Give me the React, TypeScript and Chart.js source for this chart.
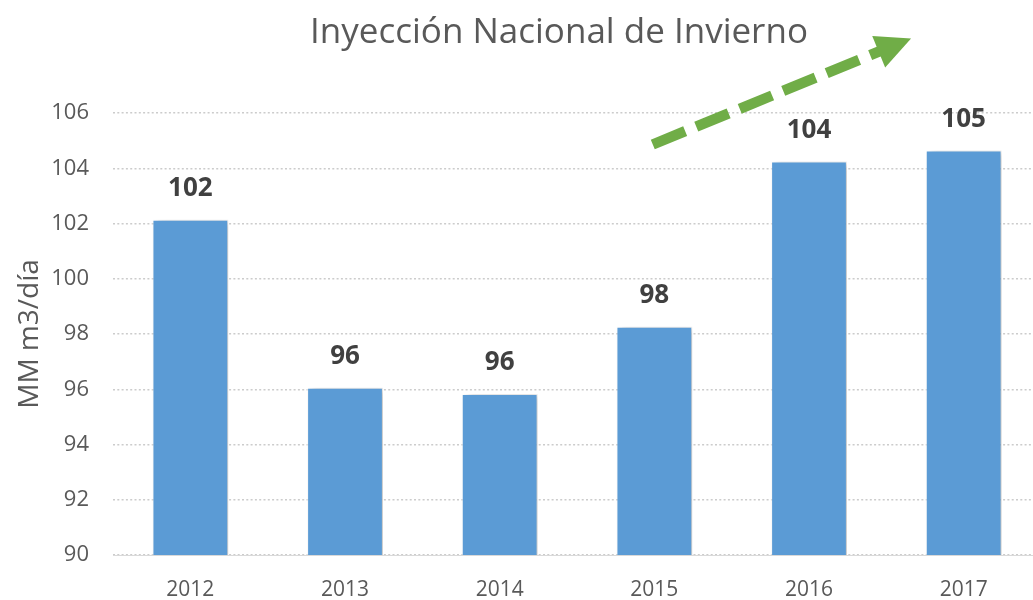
import React, { useEffect, useRef } from "react";
import { Chart, registerables } from "chart.js";

Chart.register(...registerables);

const categories = ["2012", "2013", "2014", "2015", "2016", "2017"];
const injectionValues = [102.14, 96.05, 95.83, 98.26, 104.24, 104.64];
const yTicks = { min: 90, max: 106, step: 2 };
const chartTitle = "Inyección Nacional de Invierno";
const yAxisTitle = "MM m3/día";
// trend arrow, expressed in scale units (category index, value)
const arrowStart = { x: 2.99, y: 104.86 };
const arrowTip = { x: 4.66, y: 108.7 };

const FONT = "'Open Sans', 'Noto Sans', sans-serif";
const GREY = "#595959";

export default function App() {
  const ref = useRef<HTMLCanvasElement | null>(null);

  useEffect(() => {
    if (!ref.current) return;

    const shadowPlugin = {
      id: "barShadow",
      beforeDatasetDraw(chart: any) {
        const ctx = chart.ctx;
        ctx.save();
        ctx.shadowColor = "rgba(0,0,0,0.25)";
        ctx.shadowBlur = 7;
        ctx.shadowOffsetX = 4;
        ctx.shadowOffsetY = 0;
      },
      afterDatasetDraw(chart: any) {
        chart.ctx.restore();
      },
    };

    const labelPlugin = {
      id: "valueLabels",
      afterDatasetsDraw(chart: any) {
        const ctx = chart.ctx;
        const meta = chart.getDatasetMeta(0);
        ctx.save();
        ctx.font = `bold 26px ${FONT}`;
        ctx.fillStyle = "#404040";
        ctx.textAlign = "center";
        ctx.textBaseline = "alphabetic";
        meta.data.forEach((bar: any, i: number) => {
          const v = chart.data.datasets[0].data[i] as number;
          ctx.fillText(String(Math.round(v)), bar.x, bar.y - 24);
        });
        ctx.restore();
      },
    };

    const decorPlugin = {
      id: "decor",
      afterDraw(chart: any) {
        const ctx = chart.ctx;
        // title
        ctx.save();
        ctx.font = `35px ${FONT}`;
        ctx.fillStyle = GREY;
        ctx.textAlign = "center";
        ctx.textBaseline = "alphabetic";
        ctx.fillText(chartTitle, 559, 43);
        ctx.restore();

        // arrow
        const xs = chart.scales.x;
        const ys = chart.scales.y;
        const x0 = xs.getPixelForValue(arrowStart.x);
        const y0 = ys.getPixelForValue(arrowStart.y);
        const x1 = xs.getPixelForValue(arrowTip.x);
        const y1 = ys.getPixelForValue(arrowTip.y);
        const dx = x1 - x0;
        const dy = y1 - y0;
        const len = Math.hypot(dx, dy);
        const ux = dx / len;
        const uy = dy / len;
        const headLen = 35;
        const headHalf = 17;
        const bx = x1 - ux * headLen;
        const by = y1 - uy * headLen;
        ctx.save();
        ctx.strokeStyle = "#70ad47";
        ctx.fillStyle = "#70ad47";
        ctx.lineWidth = 10.5;
        ctx.lineCap = "butt";
        ctx.setLineDash([35, 12]);
        ctx.beginPath();
        ctx.moveTo(x0, y0);
        ctx.lineTo(bx + ux * 2, by + uy * 2);
        ctx.stroke();
        ctx.setLineDash([]);
        ctx.beginPath();
        ctx.moveTo(x1, y1);
        ctx.lineTo(bx - uy * headHalf, by + ux * headHalf);
        ctx.lineTo(bx + uy * headHalf, by - ux * headHalf);
        ctx.closePath();
        ctx.fill();
        ctx.restore();
      },
    };

    const chart = new Chart(ref.current, {
      type: "bar",
      data: {
        labels: categories,
        datasets: [
          {
            data: injectionValues,
            backgroundColor: "#5b9bd5",
            borderColor: "rgba(255,255,255,0.55)",
            borderWidth: 1,
            categoryPercentage: 1,
            barPercentage: 0.49,
          },
        ],
      },
      options: {
        animation: false,
        responsive: false,
        devicePixelRatio: 1,
        layout: { padding: { top: 113, left: 0, right: 0, bottom: 0 } },
        plugins: {
          legend: { display: false },
          title: { display: false },
          tooltip: { enabled: false },
        },
        scales: {
          x: {
            grid: { display: false, drawTicks: false },
            border: { display: true, color: "#d9d9d9", width: 1 },
            ticks: {
              color: GREY,
              font: { family: FONT, size: 21 },
              padding: 22,
            },
            afterFit: (s: any) => {
              s.height = 45;
            },
          },
          y: {
            min: yTicks.min,
            max: yTicks.max,
            grid: {
              color: "#cccccc",
              lineWidth: 1.5,
              drawTicks: false,
            },
            border: { display: false, dash: [2, 2.3] },
            ticks: {
              stepSize: yTicks.step,
              color: GREY,
              font: { family: FONT, size: 22 },
              padding: 24,
            },
            title: {
              display: true,
              text: yAxisTitle,
              color: GREY,
              font: { family: FONT, size: 28 },
              padding: { top: 13, bottom: 0 },
            },
            afterFit: (s: any) => {
              s.width = 113;
            },
          },
        },
      },
      plugins: [shadowPlugin, labelPlugin, decorPlugin],
    });

    return () => chart.destroy();
  }, []);

  return (
    <div
      style={{
        position: "fixed",
        left: 0,
        top: 0,
        width: 1033,
        height: 600,
        overflow: "hidden",
        background: "#ffffff",
      }}
    >
      <canvas ref={ref} width={1041} height={600} style={{ display: "block" }} />
    </div>
  );
}
